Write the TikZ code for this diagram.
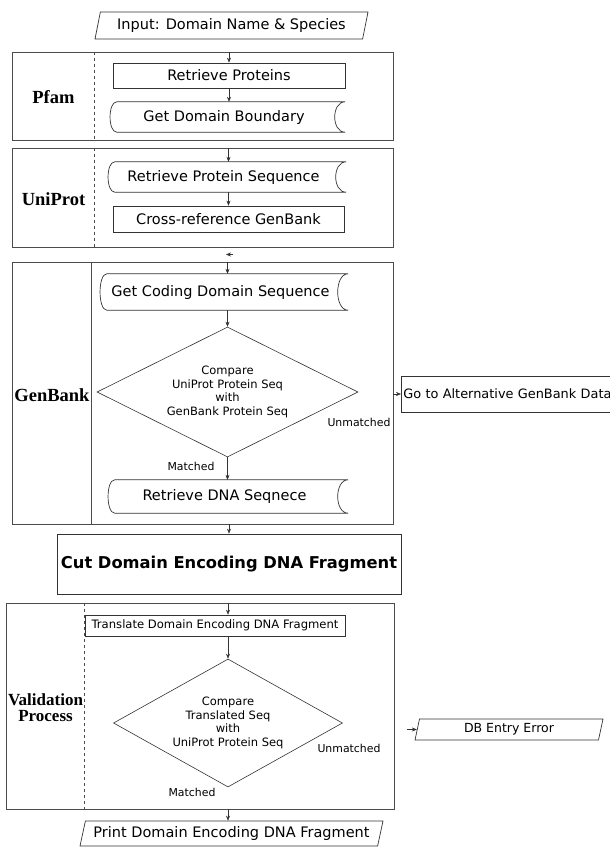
\documentclass[tikz,border=0pt]{standalone}
\usepackage{fontspec}
\setsansfont{DejaVu Sans}
\newfontfamily\lanefont{Liberation Serif}
\usepackage{tikz}
\usetikzlibrary{shapes.geometric,arrows.meta,positioning}

% outline of a stored-data box around a node
\newcommand{\storedoutline}[1]{%
  \draw[boxline] ([xshift=7pt]#1.north west) -- ([xshift=7pt]#1.north east)
    .. controls ([xshift=-7pt]#1.north east) and ([xshift=-7pt]#1.south east) .. ([xshift=7pt]#1.south east)
    -- ([xshift=7pt]#1.south west)
    .. controls ([xshift=-2pt]#1.south west) and ([xshift=-2pt]#1.north west) .. ([xshift=7pt]#1.north west);}

\begin{document}
\begin{tikzpicture}[x=1pt, y=-1pt, >={Stealth[length=5pt,width=4pt]},
    boxline/.style={draw=black!80, line width=0.7pt},
    lane/.style={draw=black!70, line width=0.6pt, inner sep=0pt},
    lanetitle/.style={font=\lanefont\bfseries\fontsize{18.5}{16}\selectfont, align=center, inner sep=0pt},
    process/.style={boxline, inner sep=0pt, font=\sffamily\fontsize{14.5}{16}\selectfont},
    datastore/.style={inner sep=0pt, font=\sffamily\fontsize{14.5}{16}\selectfont},
    decision/.style={diamond, aspect=2, boxline, line width=0.6pt, inner sep=0pt, align=center,
      font=\sffamily\fontsize{11.5}{13.5}\selectfont},
    io/.style={trapezium, trapezium left angle=69, trapezium right angle=111,
      trapezium stretches body=true, boxline, inner sep=0pt, font=\sffamily\fontsize{14.5}{16}\selectfont},
    tag/.style={font=\sffamily\fontsize{10.9}{12}\selectfont, inner sep=0pt},
    stub/.style={->, draw=black!80, line width=0.5pt}]

\useasboundingbox (0,0) rectangle (610,851);

% input
\node[io, minimum width=273, minimum height=27] (input) at (231.5,25.5) {Input: Domain Name \& Species};

% Pfam
\node[lane, minimum width=381, minimum height=88] (pfam) at (202.5,96) {};
\draw[lane, dashed] ([xshift=83pt]pfam.north west) -- ([xshift=83pt]pfam.south west);
\node[lanetitle] (pfamlbl) at (53.5,97) {Pfam};
\node[process, minimum width=232, minimum height=25] (retprot) at (229,75.5) {Retrieve Proteins};
\node[datastore, minimum width=228, minimum height=30] (getdom) at (224,117) {Get Domain Boundary};
\storedoutline{getdom}

% UniProt
\node[lane, minimum width=381, minimum height=99] (uniprot) at (202.5,197.5) {};
\draw[lane, dashed] ([xshift=83pt]uniprot.north west) -- ([xshift=83pt]uniprot.south west);
\node[lanetitle] (uniprotlbl) at (53.5,199) {UniProt};
\node[datastore, minimum width=231, minimum height=30] (retseq) at (223.5,177) {Retrieve Protein Sequence};
\storedoutline{retseq}
\node[process, minimum width=231, minimum height=26] (crossref) at (228.5,219) {Cross-reference GenBank};

% GenBank
\node[lane, minimum width=381, minimum height=262] (genbank) at (202.5,393) {};
\draw[lane] ([xshift=80pt]genbank.north west) -- ([xshift=80pt]genbank.south west);
\node[lanetitle] (genbanklbl) at (52,395) {GenBank};
\node[datastore, minimum width=241, minimum height=36] (getcode) at (220.5,292) {Get Coding Domain Sequence};
\storedoutline{getcode}
\node[decision, minimum width=261, minimum height=130] (dec1) at (227.5,392)
  {Compare\\UniProt Protein Seq\\with\\GenBank Protein Seq};
\node[tag] (unm1) at (359,422) {Unmatched};
\node[tag] (mat1) at (191,466) {Matched};
\node[datastore, minimum width=233, minimum height=33] (retdna) at (224.5,496.5) {Retrieve DNA Seqnece};
\storedoutline{retdna}
\node[boxline, anchor=west, inner xsep=2pt, inner ysep=0pt, text width=222, align=left,
  minimum height=36, font=\sffamily\fontsize{12.9}{14}\selectfont] (goto) at (401,394)
  {Go to Alternative GenBank Data};

% cut
\node[process, minimum width=344, minimum height=60,
  font=\sffamily\bfseries\fontsize{16.3}{18}\selectfont] (cut) at (229,564) {Cut Domain Encoding DNA Fragment};

% validation
\node[lane, minimum width=388, minimum height=206] (valid) at (200,706) {};
\draw[lane, dashed] ([xshift=79pt]valid.north west) -- ([xshift=79pt]valid.south west);
\node[lanetitle, font=\lanefont\bfseries\fontsize{17}{16}\selectfont] (validlbl) at (45.5,708) {Validation\\Process};
\node[process, minimum width=260, minimum height=21, font=\sffamily\fontsize{11.6}{13}\selectfont]
  (translate) at (215,625.5) {Translate Domain Encoding DNA Fragment};
\node[decision, minimum width=229, minimum height=128] (dec2) at (228,723)
  {Compare\\Translated Seq\\with\\UniProt Protein Seq};
\node[tag] (unm2) at (349,748) {Unmatched};
\node[tag] (mat2) at (192,792) {Matched};
\node[io, minimum width=188, minimum height=21, font=\sffamily\fontsize{12.5}{14}\selectfont]
  (dberr) at (509,729.5) {DB Entry Error};

% output
\node[io, minimum width=303, minimum height=25] (print) at (231.5,833.5) {Print Domain Encoding DNA Fragment};

% connectors
\coordinate (gap) at (233,254.5);
\draw[stub] (retprot.north |- pfam.north) -- (retprot.north);
\draw[stub] (retprot.south) -- (retprot.south |- getdom.north);
\draw[stub] (crossref.north |- uniprot.north) -- (crossref.north |- retseq.north);
\draw[stub] (crossref.north |- retseq.south) -- (crossref.north);
\draw[stub] (gap) -- ++(-7,0);
\draw[stub] (dec1.north |- genbank.north) -- (dec1.north |- getcode.north);
\draw[stub] (dec1.north |- getcode.south) -- (dec1.north);
\draw[stub] (dec1.south) -- (dec1.south |- retdna.north);
\draw[stub] (goto.west -| genbank.east) -- (goto.west);
\draw[stub] (cut.north |- genbank.south) -- (cut.north);
\draw[stub] (dec2.north |- valid.north) -- (dec2.north |- translate.north);
\draw[stub] (dec2.north |- translate.south) -- (dec2.north);
\draw[stub] ([xshift=-10pt]dberr.west) -- (dberr.west);
\draw[stub] (dec2.south |- valid.south) -- (dec2.south |- print.north);
\end{tikzpicture}
\end{document}
